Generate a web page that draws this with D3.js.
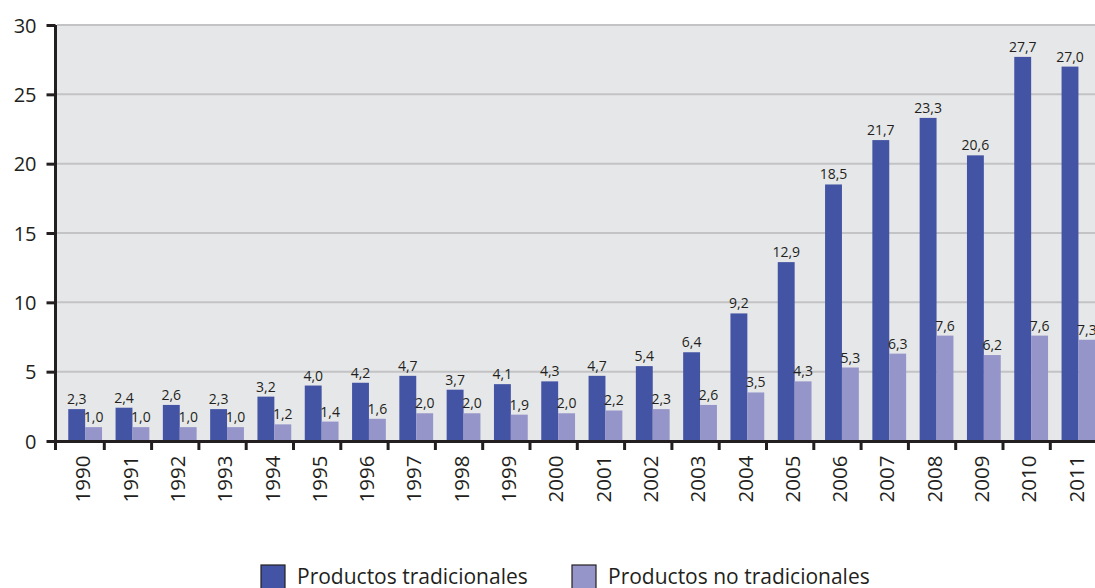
<!DOCTYPE html>
<html>
<head>
<meta charset="utf-8">
<script src="https://cdn.jsdelivr.net/npm/d3@7"></script>
<style>
  body { margin: 0; background: #fff; }
  text { font-family: "Open Sans", "Noto Sans", sans-serif; fill: #231f20; }
</style>
</head>
<body>
<div id="chart"></div>
<script>
var years = ["1990","1991","1992","1993","1994","1995","1996","1997","1998","1999","2000",
             "2001","2002","2003","2004","2005","2006","2007","2008","2009","2010","2011"];
var tradicionales = [2.3,2.4,2.6,2.3,3.2,4.0,4.2,4.7,3.7,4.1,4.3,4.7,5.4,6.4,9.2,12.9,18.5,21.7,23.3,20.6,27.7,27.0];
var noTradicionales = [1.0,1.0,1.0,1.0,1.2,1.4,1.6,2.0,2.0,1.9,2.0,2.2,2.3,2.6,3.5,4.3,5.3,6.3,7.6,6.2,7.6,7.3];
var seriesNames = ["Productos tradicionales", "Productos no tradicionales"];
var yTicks = [0, 5, 10, 15, 20, 25, 30];

function init(){
  var width = 1095, height = 588;
  var colors = ["#4354a4", "#9695c9"];

  var svg = d3.select("#chart").append("svg")
    .attr("width", width)
    .attr("height", height);

  var x = d3.scaleBand()
    .domain(years)
    .range([57.5, 57.5 + 22 * 47.3]);

  var y = d3.scaleLinear()
    .domain([0, 30])
    .range([441, 25]);

  // plot background
  svg.append("rect")
    .attr("x", 57).attr("y", y(30))
    .attr("width", width - 57).attr("height", y(0) - y(30))
    .style("fill", "#e6e7e9");

  // grid lines
  svg.append("g").selectAll("line")
    .data(yTicks.filter(function(d){ return d > 0; }))
    .enter().append("line")
    .attr("x1", 57).attr("x2", width)
    .attr("y1", function(d){ return y(d); })
    .attr("y2", function(d){ return y(d); })
    .style("stroke", "#c3c3c6")
    .style("stroke-width", 2);

  // bars
  var inner = d3.scaleBand()
    .domain([0, 1])
    .range([0, x.bandwidth()])
    .paddingOuter(0.4);
  var shift = 4;

  var data = [];
  years.forEach(function(yr, i){
    data.push({year: yr, s: 0, v: tradicionales[i]});
    data.push({year: yr, s: 1, v: noTradicionales[i]});
  });

  svg.append("g").selectAll("rect")
    .data(data)
    .enter().append("rect")
    .attr("x", function(d){ return x(d.year) + inner(d.s) + shift; })
    .attr("y", function(d){ return y(d.v); })
    .attr("width", inner.bandwidth())
    .attr("height", function(d){ return y(0) - y(d.v); })
    .style("fill", function(d){ return colors[d.s]; });

  // value labels
  svg.append("g").selectAll("text")
    .data(data)
    .enter().append("text")
    .attr("x", function(d){ return x(d.year) + inner(d.s) + shift + inner.bandwidth() / 2; })
    .attr("y", function(d){ return y(d.v) - 5; })
    .attr("text-anchor", "middle")
    .style("font-size", "14px")
    .text(function(d){ return d3.format(".1f")(d.v).replace(".", ","); });

  // Y axis
  var yAxis = svg.append("g")
    .attr("transform", "translate(55.5,0)")
    .call(d3.axisLeft(y).tickValues(yTicks).tickSize(9).tickPadding(10));
  yAxis.select(".domain").style("stroke", "#231f20").style("stroke-width", 3)
    .attr("d", "M0," + (y(30)) + "V" + (y(0) + 9));
  yAxis.selectAll(".tick line").style("stroke", "#231f20").style("stroke-width", 3);
  yAxis.selectAll(".tick text").style("font-size", "20px").attr("dy", "0.35em");

  // X axis
  var xAxis = svg.append("g")
    .attr("transform", "translate(0," + (y(0) + 0.5) + ")")
    .call(d3.axisBottom(x).tickSize(0).tickPadding(0));
  xAxis.select(".domain").style("stroke", "#231f20").style("stroke-width", 3)
    .attr("d", "M54," + 0 + "H" + width);
  xAxis.selectAll(".tick text")
    .style("font-size", "20.5px")
    .attr("transform", "translate(2,14) rotate(-90)")
    .attr("text-anchor", "end")
    .attr("dy", "0.35em")
    .attr("y", 0);

  // category separators
  svg.append("g").selectAll("line")
    .data(years.slice(1))
    .enter().append("line")
    .attr("x1", function(d){ return x(d) - 0.5; })
    .attr("x2", function(d){ return x(d) - 0.5; })
    .attr("y1", y(0))
    .attr("y2", y(0) + 9)
    .style("stroke", "#231f20")
    .style("stroke-width", 3);

  // legend
  var legendX = [261, 572];
  var legend = svg.append("g").selectAll("g")
    .data(seriesNames)
    .enter().append("g")
    .attr("transform", function(d, i){ return "translate(" + legendX[i] + ",565)"; });
  legend.append("rect")
    .attr("width", 24).attr("height", 24)
    .style("fill", function(d, i){ return colors[i]; })
    .style("stroke", "#231f20")
    .style("stroke-width", 1.2);
  legend.append("text")
    .attr("x", 36).attr("y", 12)
    .attr("dy", "0.35em")
    .style("font-size", "21px")
    .text(function(d){ return d; });
}
window.onload = init;
</script>
</body>
</html>
